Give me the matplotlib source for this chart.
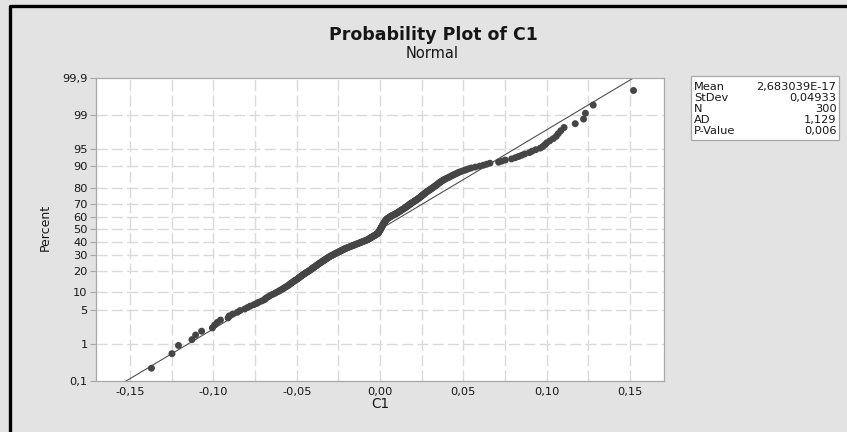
"""Normal probability plot of C1, Minitab style."""
from statistics import NormalDist

import matplotlib
matplotlib.use("Agg")
import matplotlib.pyplot as plt
from matplotlib.lines import Line2D
from matplotlib.patches import Rectangle

# sorted C1 values (300 points)
c1 = [
    -0.1372, -0.1249, -0.1210, -0.1129, -0.1107, -0.1071, -0.1006, -0.0993, -0.0977, -0.0958,
    -0.0912, -0.0905, -0.0884, -0.0856, -0.0840, -0.0812, -0.0795, -0.0779, -0.0758, -0.0740,
    -0.0728, -0.0710, -0.0694, -0.0688, -0.0679, -0.0668, -0.0659, -0.0646, -0.0633, -0.0624,
    -0.0612, -0.0603, -0.0595, -0.0584, -0.0577, -0.0569, -0.0561, -0.0553, -0.0546, -0.0541,
    -0.0535, -0.0529, -0.0522, -0.0516, -0.0511, -0.0503, -0.0497, -0.0491, -0.0486, -0.0481,
    -0.0476, -0.0470, -0.0466, -0.0460, -0.0453, -0.0449, -0.0444, -0.0437, -0.0432, -0.0427,
    -0.0421, -0.0416, -0.0412, -0.0407, -0.0402, -0.0398, -0.0394, -0.0388, -0.0383, -0.0380,
    -0.0375, -0.0371, -0.0366, -0.0362, -0.0357, -0.0352, -0.0348, -0.0344, -0.0339, -0.0335,
    -0.0330, -0.0325, -0.0321, -0.0317, -0.0312, -0.0308, -0.0303, -0.0298, -0.0293, -0.0287,
    -0.0282, -0.0276, -0.0271, -0.0266, -0.0260, -0.0255, -0.0249, -0.0244, -0.0239, -0.0233,
    -0.0228, -0.0223, -0.0217, -0.0212, -0.0206, -0.0200, -0.0193, -0.0187, -0.0180, -0.0174,
    -0.0167, -0.0160, -0.0154, -0.0148, -0.0141, -0.0135, -0.0128, -0.0122, -0.0115, -0.0109,
    -0.0102, -0.0096, -0.0089, -0.0083, -0.0076, -0.0072, -0.0068, -0.0064, -0.0059, -0.0055,
    -0.0051, -0.0047, -0.0043, -0.0039, -0.0035, -0.0031, -0.0027, -0.0023, -0.0019, -0.0015,
    -0.0011, -0.0010, -0.0008, -0.0007, -0.0005, -0.0004, -0.0003, -0.0001, 0.0000, 0.0002,
    0.0003, 0.0004, 0.0006, 0.0007, 0.0008, 0.0009, 0.0011, 0.0012, 0.0014, 0.0015,
    0.0017, 0.0018, 0.0020, 0.0021, 0.0023, 0.0024, 0.0026, 0.0027, 0.0028, 0.0030,
    0.0032, 0.0034, 0.0036, 0.0038, 0.0040, 0.0043, 0.0046, 0.0050, 0.0054, 0.0058,
    0.0062, 0.0066, 0.0070, 0.0075, 0.0080, 0.0085, 0.0090, 0.0095, 0.0100, 0.0104,
    0.0108, 0.0112, 0.0116, 0.0120, 0.0124, 0.0128, 0.0132, 0.0136, 0.0140, 0.0145,
    0.0149, 0.0152, 0.0156, 0.0160, 0.0164, 0.0168, 0.0171, 0.0175, 0.0178, 0.0182,
    0.0185, 0.0190, 0.0195, 0.0200, 0.0204, 0.0208, 0.0213, 0.0217, 0.0222, 0.0226,
    0.0230, 0.0234, 0.0238, 0.0242, 0.0246, 0.0250, 0.0253, 0.0257, 0.0261, 0.0265,
    0.0269, 0.0273, 0.0277, 0.0281, 0.0286, 0.0291, 0.0296, 0.0301, 0.0306, 0.0311,
    0.0316, 0.0321, 0.0326, 0.0331, 0.0336, 0.0341, 0.0346, 0.0350, 0.0355, 0.0360,
    0.0366, 0.0372, 0.0378, 0.0386, 0.0393, 0.0401, 0.0410, 0.0419, 0.0427, 0.0436,
    0.0445, 0.0455, 0.0465, 0.0475, 0.0488, 0.0502, 0.0516, 0.0531, 0.0548, 0.0572,
    0.0598, 0.0621, 0.0640, 0.0660, 0.0712, 0.0731, 0.0752, 0.0790, 0.0812, 0.0832,
    0.0851, 0.0869, 0.0897, 0.0913, 0.0935, 0.0962, 0.0978, 0.0990, 0.1001, 0.1019,
    0.1040, 0.1058, 0.1070, 0.1085, 0.1105, 0.1172, 0.1222, 0.1233, 0.1280, 0.1522,
]

percent_ticks = [0.1, 1, 5, 10, 20, 30, 40, 50, 60, 70, 80, 90, 95, 99, 99.9]
percent_labels = ["0,1", "1", "5", "10", "20", "30", "40", "50", "60", "70",
                  "80", "90", "95", "99", "99,9"]
x_ticks = [-0.15, -0.10, -0.05, 0.0, 0.05, 0.10, 0.15]
x_labels = ["-0,15", "-0,10", "-0,05", "0,00", "0,05", "0,10", "0,15"]
x_grid = [-0.15, -0.125, -0.10, -0.075, -0.05, -0.025, 0.0,
          0.025, 0.05, 0.075, 0.10, 0.125, 0.15]

stat_names = ["Mean", "StDev", "N", "AD", "P-Value"]
stat_values = ["2,683039E-17", "0,04933", "300", "1,129", "0,006"]
mean = 2.683039e-17
stdev = 0.04933

plt.rcParams["font.family"] = ["DejaVu Sans"]

W, H = 847, 432
BG = "#e3e3e3"
DOT = "#454545"
INK = "#161616"


def fx(px):
    return px / W


def fy(py):
    return 1 - py / H


nd = NormalDist()
n = len(c1)
# Minitab median-rank plotting positions
z_pts = [nd.inv_cdf((i - 0.3) / (n + 0.4)) for i in range(1, n + 1)]
z_ticks = [nd.inv_cdf(p / 100) for p in percent_ticks]
z_lo, z_hi = z_ticks[0], z_ticks[-1]

fig = plt.figure(figsize=(W / 100, H / 100), dpi=100, facecolor=BG)

# black screenshot frame (top + left)
fig.add_artist(Line2D([fx(10), fx(10), 1.0], [0.0, fy(6), fy(6)],
                      transform=fig.transFigure, color="black", lw=2.4))

ax = fig.add_axes([fx(96), fy(381), fx(664) - fx(96), fy(77.7) - fy(381)])
ax.set_facecolor("white")
ax.set_xlim(-0.1705, 0.1705)
ax.set_ylim(z_lo, z_hi)

for x in x_grid:
    ax.axvline(x, color="#dadada", lw=1.0, dashes=(8, 3), zorder=0)
for z in z_ticks[1:-1]:
    ax.axhline(z, color="#dadada", lw=1.0, dashes=(8, 3), zorder=0)

# fitted normal line
ax.plot([mean + stdev * z_lo, mean + stdev * z_hi], [z_lo, z_hi],
        color="#505050", lw=0.8, zorder=2)
ax.scatter(c1, z_pts, s=25, color=DOT, edgecolors="none", zorder=3)

ax.set_yticks(z_ticks)
ax.set_yticklabels(percent_labels)
ax.set_xticks(x_ticks)
ax.set_xticklabels(x_labels)
ax.tick_params(axis="y", length=4, width=0.8, color="#a8a8a8", pad=2,
               labelsize=8.2, labelcolor=INK)
ax.tick_params(axis="x", length=0, pad=4, labelsize=8.2, labelcolor=INK)
for sp in ax.spines.values():
    sp.set_color("#a8a8a8")
    sp.set_linewidth(0.9)

fig.text(fx(433), fy(35), "Probability Plot of C1", ha="center", va="center",
         fontsize=12.5, fontweight="bold", color=INK)
fig.text(fx(432), fy(53), "Normal", ha="center", va="center",
         fontsize=10.5, color=INK)
fig.text(fx(380), fy(404.5), "C1", ha="center", va="center",
         fontsize=9.8, color=INK)
fig.text(fx(45.5), fy(227.5), "Percent", ha="center", va="center",
         rotation=90, fontsize=9, color=INK)

# statistics box
fig.add_artist(Rectangle((fx(691), fy(140)), fx(839) - fx(691), fy(76) - fy(140),
                         transform=fig.transFigure, facecolor="white",
                         edgecolor="#a8a8a8", lw=0.9))
for k, (name, val) in enumerate(zip(stat_names, stat_values)):
    y = fy(87 + k * 11)
    fig.text(fx(694), y, name, ha="left", va="center", fontsize=8.2, color=INK)
    fig.text(fx(836.5), y, val, ha="right", va="center", fontsize=8.2, color=INK)

fig.savefig("out.png", dpi=100, facecolor=BG)
